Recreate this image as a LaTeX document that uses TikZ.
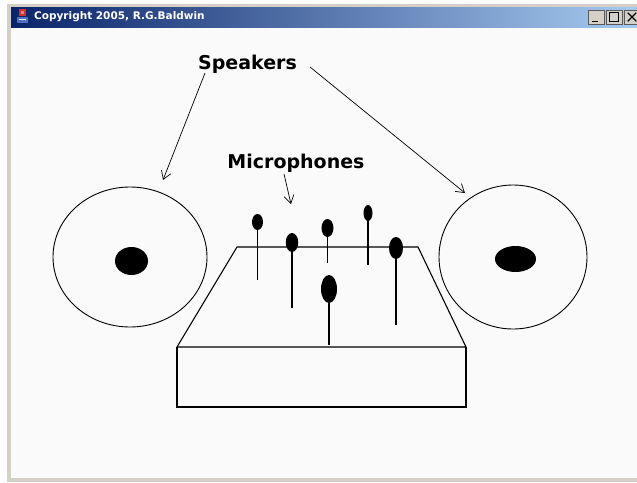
\documentclass[tikz,border=0pt]{standalone}
\usepackage{fontspec}
\setmainfont{Liberation Sans}
\newfontfamily\titlefont{DejaVu Sans}
\newfontfamily\capfont{DejaVu Sans}
\usetikzlibrary{arrows.meta,shapes.geometric}
\definecolor{framegray}{HTML}{D4D0C8}
\definecolor{barleft}{HTML}{0A246A}
\definecolor{barright}{HTML}{A6CAF0}
\definecolor{canvas}{HTML}{FAFAFA}
\definecolor{cupred}{HTML}{D03030}
\definecolor{cupblue}{HTML}{5070C0}

\begin{document}
\begin{tikzpicture}[x=1pt,y=-1pt,
  outline/.style={draw=black, line width=1.1pt},
  rim/.style={ellipse, draw=black, line width=0.9pt, inner sep=0pt},
  cone/.style={ellipse, fill=black, inner sep=0pt},
  head/.style={ellipse, fill=black, inner sep=0pt},
  stem/.style={draw=black, line width=1.2pt},
  caption/.style={font=\capfont\bfseries\fontsize{19}{19}\selectfont, inner sep=0pt, anchor=base},
  pointer/.style={draw=black, line width=0.7pt, -{Straight Barb[length=8pt,width=10pt]}},
  winbutton/.style={draw=gray!70!black, fill=framegray, line width=0.6pt,
    minimum width=16pt, minimum height=14pt, inner sep=0pt},
]
\useasboundingbox (0,0) rectangle (637,482);

% window frame and client area
\fill[white] (0,0) rectangle (637,482);
\fill[framegray] (7,4) rectangle (637,482);
\fill[canvas] (11,27) rectangle (637,478);

% title bar
\shade[left color=barleft, right color=barright] (11,7) rectangle (637,27);
\node[anchor=west, text=white, inner sep=0pt,
      font=\titlefont\bfseries\fontsize{10.5}{10.5}\selectfont] (title) at (34,17)
      {Copyright 2005, R.G.Baldwin};

% application icon
\begin{scope}[shift={(15,9)}]
  \fill[cupred] (4,0) rectangle (11,7);
  \fill[cupred!60!white] (6,2) rectangle (9,5);
  \fill[cupblue] (2,8) rectangle (13,14);
  \fill[white] (4,10) rectangle (11,11);
\end{scope}

% title bar buttons
\node[winbutton] (minbtn) at (596,17) {};
\node[winbutton] (maxbtn) at (614,17) {};
\node[winbutton] (closebtn) at (632,17) {};
\draw[line width=1.5pt] ([shift={(4,-3)}]minbtn.south west) -- ([shift={(-6,-3)}]minbtn.south east);
\draw[line width=0.8pt] ([shift={(4,3)}]maxbtn.north west) rectangle ([shift={(-4,-3)}]maxbtn.south east);
\draw[line width=1.5pt] ([shift={(4,3)}]maxbtn.north west) -- ([shift={(-4,3)}]maxbtn.north east);
\draw[line width=1.2pt] ([shift={(4,3)}]closebtn.north west) -- ([shift={(-4,-3)}]closebtn.south east);
\draw[line width=1.2pt] ([shift={(4,-3)}]closebtn.south west) -- ([shift={(-4,3)}]closebtn.north east);

% speakers
\node[rim, minimum width=154pt, minimum height=140pt] (spkL) at (130,257) {};
\node[cone, minimum width=33pt, minimum height=28pt] (coneL) at (131.5,261) {};
\node[rim, minimum width=148pt, minimum height=144pt] (spkR) at (513,257) {};
\node[cone, minimum width=41pt, minimum height=26pt] (coneR) at (515.5,259) {};

% table
\coordinate (tTL) at (237,247);
\coordinate (tTR) at (418,247);
\coordinate (tBL) at (177,347);
\coordinate (tBR) at (466,347);
\coordinate (fBL) at (177,407);
\coordinate (fBR) at (466,407);
\draw[outline] (tTL) -- (tTR) -- (tBR) -- (tBL) -- cycle;
\draw[outline] (tBL) -- (fBL) -- (fBR) -- (tBR);

% microphones: stem ends, then heads
\coordinate (foot1) at (257.7,280);
\coordinate (foot2) at (292.7,308);
\coordinate (foot3) at (326.7,263);
\coordinate (foot4) at (366.7,265);
\coordinate (foot5) at (395.7,325);
\coordinate (foot6) at (329.3,345);
\node[head, minimum width=11pt, minimum height=16pt] (mic1) at (257.5,222) {};
\node[head, minimum width=12.5pt, minimum height=19pt] (mic2) at (292,242.5) {};
\node[head, minimum width=12pt, minimum height=18pt] (mic3) at (327.5,228) {};
\node[head, minimum width=9pt, minimum height=16pt] (mic4) at (368,213) {};
\node[head, minimum width=14pt, minimum height=22pt] (mic5) at (396,248) {};
\node[head, minimum width=16pt, minimum height=28pt] (mic6) at (329,289) {};
\foreach \m in {1,...,6} {
  \draw[stem] (mic\m.center) -- (mic\m.center |- foot\m);
}

% captions and pointers
\node[caption] (spk) at (247.5,69) {Speakers};
\node[caption] (mics) at (296,168) {Microphones};
\coordinate (spkLfrom) at (205,73);
\coordinate (spkLto) at (163,180);
\coordinate (spkRfrom) at (310,67);
\coordinate (spkRto) at (465,193);
\coordinate (micsfrom) at (284,174);
\coordinate (micsto) at (291,204);
\draw[pointer] (spkLfrom) -- (spkLto);
\draw[pointer] (spkRfrom) -- (spkRto);
\draw[pointer] (micsfrom) -- (micsto);
\end{tikzpicture}
\end{document}
